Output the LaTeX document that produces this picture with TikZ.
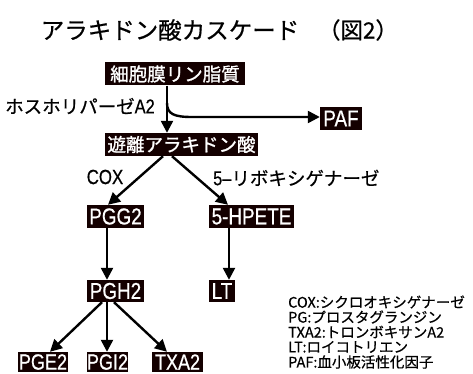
\documentclass[tikz,border=0pt]{standalone}
\usepackage{fontspec}
\setmainfont[FakeBold=0.6]{Noto Sans CJK JP}
\newfontfamily\jpb[FakeBold=1.2]{Noto Sans CJK JP}
\newfontfamily\cond[FakeStretch=0.82,FakeBold=0.6]{Liberation Sans}
\usetikzlibrary{arrows.meta,calc}
\tikzset{
  box/.style={fill=black!92!red, text=white, inner sep=0pt, minimum height=23pt},
  jbox/.style={box, font=\jpb\fontsize{18.5}{20}\selectfont},
  lbox/.style={box, font=\cond\fontsize{23}{24}\selectfont},
  arr/.style={line width=2.4pt, -{Triangle[length=12pt,width=12pt]}},
  lab/.style={inner sep=0pt, font=\fontsize{18.5}{20}\selectfont},
  leg/.style={inner sep=0pt, anchor=west, font=\fontsize{14.5}{15}\selectfont},
}
\begin{document}
\begin{tikzpicture}[x=1pt,y=-1pt]
\useasboundingbox (0,0) rectangle (473,374);
% title
\node[inner sep=0pt, font=\fontsize{23.5}{25}\selectfont] (title) at (170,30) {アラキドン酸カスケード};
\node[inner sep=0pt, font=\fontsize{22.5}{24}\selectfont] (fig) at (358,30) {（図2）};
% boxes
\node[jbox, minimum width=140pt] (memb) at (175,74) {細胞膜リン脂質};
\node[jbox, minimum width=153pt] (free) at (181.5,144.5) {遊離アラキドン酸};
\node[lbox, minimum width=42pt] (paf) at (341,118.5) {PAF};
\node[lbox, minimum width=57pt] (pgg) at (115.5,216.5) {PGG2};
\node[lbox, minimum width=85pt] (hpete) at (251.5,216.5) {5-HPETE};
\node[lbox, minimum width=57pt, minimum height=22pt] (pgh) at (115.5,291) {PGH2};
\node[lbox, minimum width=26pt, minimum height=22pt] (lt) at (222,291) {LT};
\node[lbox, font=\cond\fontsize{22}{22}\selectfont, minimum width=50pt, minimum height=20pt] (pge) at (43,362) {PGE2};
\node[lbox, font=\cond\fontsize{22}{22}\selectfont, minimum width=41pt, minimum height=20pt] (pgi) at (107.5,362) {PGI2};
\node[lbox, font=\cond\fontsize{22}{22}\selectfont, minimum width=51pt, minimum height=20pt] (txa) at (177.5,362) {TXA2};
% labels
\node[lab, anchor=west] (pla) at (5,106) {ホスホリパーゼ{\cond\fontsize{20}{20}\selectfont A2}};
\node[lab] (cox) at (105,177) {\cond\fontsize{20.5}{20}\selectfont COX};
\node[lab, anchor=west] (lox) at (213,178) {{\cond\fontsize{20}{20}\selectfont 5–}リボキシゲナーゼ};
% legend
\node[leg] (l1) at (288,302) {COX:シクロオキシゲナーゼ};
\node[leg] (l2) at (288,317) {PG:プロスタグランジン};
\node[leg] (l3) at (288,332) {TXA2:トロンボキサンA2};
\node[leg] (l4) at (288,347) {LT:ロイコトリエン};
\node[leg] (l5) at (288,362) {PAF:血小板活性化因子};
% connectors
\coordinate (x1) at (167,0);
\coordinate (x2) at (107,0);
\coordinate (x3) at (229,0);
\coordinate (br) at (167,103);
\draw[arr] (memb.south -| x1) -- (free.north -| x1);
\draw[arr] (br) .. controls (167,114) and (174,117) .. (192,117) -- (paf.west |- 0,117);
\draw[arr] ($(free.south)+(-18.5,0)$) -- ($(pgg.north)+(-7.5,0)$);
\draw[arr] ($(free.south)+(-9.5,0)$) -- ($(hpete.north)+(-23.5,0)$);
\draw[arr] (pgg.south -| x2) -- (pgh.north -| x2);
\draw[arr] (hpete.south -| x3) -- (lt.north -| x3);
\draw[arr] ($(pgh.south)+(-13.5,0)$) -- ($(pge.north)+(7,0)$);
\draw[arr] (pgh.south -| x2) -- (pgi.north -| x2);
\draw[arr] ($(pgh.south)+(-1.5,0)$) -- ($(txa.north)+(-10.5,0)$);
\end{tikzpicture}
\end{document}
